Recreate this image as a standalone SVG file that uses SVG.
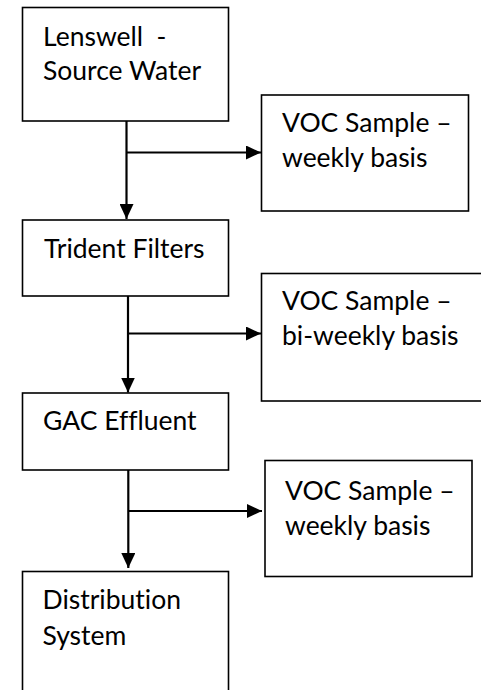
<svg xmlns="http://www.w3.org/2000/svg" width="481" height="690" viewBox="0 0 481 690">
<style>
.box{fill:#fff;stroke:#000;stroke-width:1.6}
.lbl{font-family:Lato,"Open Sans","Liberation Sans",sans-serif;font-size:26.5px;fill:#000;white-space:pre;font-variant-ligatures:none;font-feature-settings:"liga" 0,"clig" 0,"dlig" 0}
.conn{fill:none;stroke:#000;stroke-width:2.2}
</style>
<defs>
<marker id="ah" viewBox="0 0 15 14" refX="15" refY="7" markerWidth="15" markerHeight="14" markerUnits="userSpaceOnUse" orient="auto">
<path d="M0,0 L15,7 L0,14 Z" fill="#000"/>
</marker>
</defs>
<rect width="481" height="690" fill="#fff"/>
<g id="connectors">
<path class="conn" d="M126.5 121 V219" marker-end="url(#ah)"/>
<path class="conn" d="M126.5 152.5 H261" marker-end="url(#ah)"/>
<path class="conn" d="M128 296 V392.5" marker-end="url(#ah)"/>
<path class="conn" d="M128 333.5 H261" marker-end="url(#ah)"/>
<path class="conn" d="M128.3 470 V568" marker-end="url(#ah)"/>
<path class="conn" d="M128.3 511 H262" marker-end="url(#ah)"/>
</g>
<g id="lenswell">
<rect class="box" x="22.5" y="7.5" width="206" height="113.5"/>
<text class="lbl" x="43" y="46">Lenswell  -</text>
<text class="lbl" x="43" y="80">Source Water</text>
</g>
<g id="voc1">
<rect class="box" x="261.5" y="95" width="207" height="116"/>
<text class="lbl" x="282" y="132">VOC Sample –</text>
<text class="lbl" x="282" y="167">weekly basis</text>
</g>
<g id="trident">
<rect class="box" x="22.5" y="220" width="206" height="76"/>
<text class="lbl" x="44" y="258">Trident Filters</text>
</g>
<g id="voc2">
<rect class="box" x="261.5" y="273.5" width="240" height="127.5"/>
<text class="lbl" x="282" y="310">VOC Sample –</text>
<text class="lbl" x="282" y="345">bi-weekly basis</text>
</g>
<g id="gac">
<rect class="box" x="22.5" y="393" width="206" height="77"/>
<text class="lbl" x="43" y="430">GAC Effluent</text>
</g>
<g id="voc3">
<rect class="box" x="265" y="460.5" width="207" height="116"/>
<text class="lbl" x="285" y="500">VOC Sample –</text>
<text class="lbl" x="285" y="535">weekly basis</text>
</g>
<g id="distribution">
<rect class="box" x="22.5" y="571.5" width="206" height="140"/>
<text class="lbl" x="42.5" y="609">Distribution</text>
<text class="lbl" x="42.5" y="645">System</text>
</g>
</svg>
